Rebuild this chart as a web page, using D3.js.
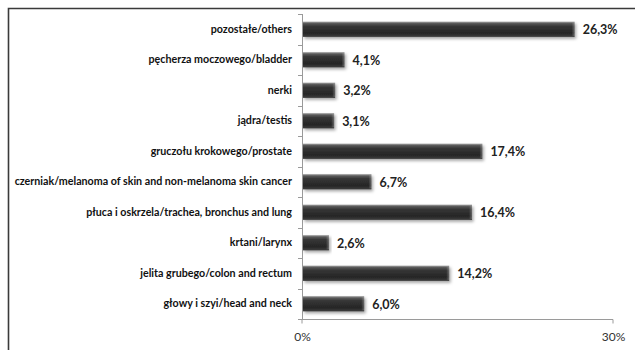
<!DOCTYPE html>
<html>
<head>
<meta charset="utf-8">
<script src="https://cdn.jsdelivr.net/npm/d3@7"></script>
<style>
  html, body { margin: 0; padding: 0; background: #fff; }
  svg { display: block; }
</style>
</head>
<body>
<svg id="chart" width="635" height="350"></svg>
<script>
// Cancer sites, listed top to bottom as drawn
const categories = [
  "pozostałe/others",
  "pęcherza moczowego/bladder",
  "nerki",
  "jądra/testis",
  "gruczołu krokowego/prostate",
  "czerniak/melanoma of skin and non-melanoma skin cancer",
  "płuca i oskrzela/trachea, bronchus and lung",
  "krtani/larynx",
  "jelita grubego/colon and rectum",
  "głowy i szyi/head and neck"
];
// Share of cases, percent
const values = [26.3, 4.1, 3.2, 3.1, 17.4, 6.7, 16.4, 2.6, 14.2, 6.0];
const xTicks = [0, 30];

const svg = d3.select("#chart");
const margin = { left: 302, right: 22, top: 14, bottom: 31 };
const W = 635, H = 350;

// Frame lines (top and left)
svg.append("path")
  .attr("d", `M8.5,${H} V8.5 H${W}`)
  .attr("fill", "none")
  .attr("stroke", "#3a3a3a")
  .attr("stroke-width", 1.6);

const x = d3.scaleLinear().domain([0, 30]).range([margin.left, W - margin.right]);
const y = d3.scaleBand().domain(categories).range([margin.top, H - margin.bottom]).paddingInner(0.5).paddingOuter(0.25);

const defs = svg.append("defs");
const grad = defs.append("linearGradient").attr("id", "barGrad").attr("x1", 0).attr("y1", 0).attr("x2", 0).attr("y2", 1);
[["0%", "#a8a8a8"], ["12%", "#5a5a5a"], ["30%", "#363636"], ["75%", "#262626"], ["100%", "#3c3c3c"]]
  .forEach(([o, c]) => grad.append("stop").attr("offset", o).attr("stop-color", c));
const endGrad = defs.append("linearGradient").attr("id", "endGrad").attr("x1", 0).attr("y1", 0).attr("x2", 1).attr("y2", 0);
[["0%", "rgba(255,255,255,0)"], ["100%", "rgba(255,255,255,0.28)"]]
  .forEach(([o, c]) => endGrad.append("stop").attr("offset", o).attr("stop-color", c));
const shadow = defs.append("filter").attr("id", "shadow").attr("x", "-5%").attr("y", "-30%").attr("width", "115%").attr("height", "180%");
shadow.append("feDropShadow").attr("dx", 1.5).attr("dy", 2).attr("stdDeviation", 1.4).attr("flood-color", "#000").attr("flood-opacity", 0.35);

// Category boundary ticks on the vertical axis
const bounds = d3.range(categories.length + 1).map(i => margin.top + i * y.step());
const axisG = svg.append("g").attr("stroke", "#9a9a9a").attr("stroke-width", 1);
axisG.append("line").attr("x1", x(0) + 0.5).attr("x2", x(0) + 0.5).attr("y1", margin.top).attr("y2", H - margin.bottom);
axisG.selectAll(".yt").data(bounds).join("line")
  .attr("x1", x(0) - 4).attr("x2", x(0)).attr("y1", d => Math.round(d) + 0.5).attr("y2", d => Math.round(d) + 0.5);

// Horizontal axis
const xAxis = d3.axisBottom(x).tickValues(xTicks).tickSize(4).tickFormat(d => d + "%");
const xg = svg.append("g").attr("transform", `translate(0,${H - margin.bottom + 0.5})`).call(xAxis);
xg.select(".domain").attr("stroke", "#9a9a9a").attr("d", `M${x(0)},4V0H${x(30)}V4`);
xg.selectAll(".tick line").remove();
xg.selectAll(".tick text")
  .attr("font-family", "Lato, 'Open Sans', sans-serif")
  .attr("font-size", 12)
  .attr("fill", "#333")
  .attr("dy", "1.15em")
  .attr("y", 8);

// Bars
const bars = svg.append("g");
bars.selectAll("rect.bar").data(values).join("rect")
  .attr("class", "bar")
  .attr("x", x(0) + 1)
  .attr("y", (d, i) => y(categories[i]))
  .attr("width", d => x(d) - x(0) - 1)
  .attr("height", y.bandwidth())
  .attr("fill", "url(#barGrad)")
  .attr("filter", "url(#shadow)");
bars.selectAll("rect.end").data(values).join("rect")
  .attr("class", "end")
  .attr("x", d => x(d) - 3)
  .attr("y", (d, i) => y(categories[i]) + 1)
  .attr("width", 3)
  .attr("height", y.bandwidth() - 2)
  .attr("fill", "url(#endGrad)");

// Category labels
svg.append("g").selectAll("text").data(categories).join("text")
  .attr("x", x(0) - 10)
  .attr("y", d => y(d) + y.bandwidth() / 2)
  .attr("dy", "0.35em")
  .attr("text-anchor", "end")
  .attr("font-family", "Lato, 'Open Sans', sans-serif")
  .attr("font-weight", "bold")
  .attr("font-size", 10.7)
  .attr("fill", "#111")
  .text(d => d);

// Value labels
svg.append("g").selectAll("text").data(values).join("text")
  .attr("x", d => x(d) + 8)
  .attr("y", (d, i) => y(categories[i]) + y.bandwidth() / 2)
  .attr("dy", "0.38em")
  .attr("font-family", "Lato, 'Open Sans', sans-serif")
  .attr("font-weight", "bold")
  .attr("font-size", 12.5)
  .attr("fill", "#222")
  .text(d => d.toFixed(1).replace(".", ",") + "%");
</script>
</body>
</html>
